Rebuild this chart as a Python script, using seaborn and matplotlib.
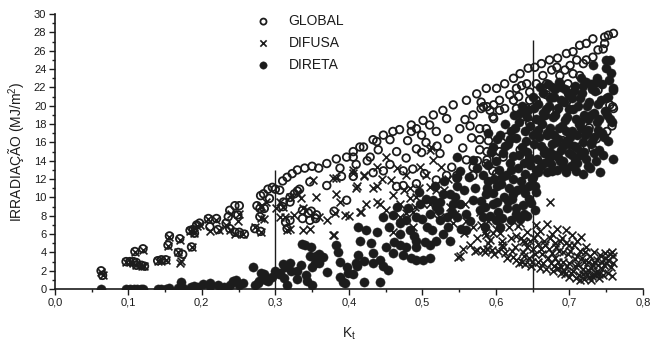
import numpy as np
import pandas as pd
import seaborn as sns
import matplotlib.pyplot as plt
from matplotlib.ticker import MultipleLocator, FuncFormatter

# valores: (Kt, irradiação MJ/m2)
global_pts = [
    (0.063, 2.0), (0.065, 1.5), (0.097, 3.0), (0.102, 3.0), (0.107, 3.0), (0.111, 2.9), (0.111, 2.6),
    (0.118, 2.6), (0.109, 4.1), (0.12, 4.4), (0.122, 2.5), (0.14, 3.1), (0.145, 3.2), (0.151, 3.2),
    (0.154, 4.8), (0.156, 5.8), (0.168, 4.0), (0.17, 5.5), (0.174, 3.8), (0.186, 4.6), (0.184, 6.4),
    (0.188, 6.5), (0.193, 7.0), (0.197, 7.2), (0.19, 6.1), (0.209, 7.7), (0.22, 7.7), (0.211, 6.8),
    (0.222, 6.5), (0.233, 7.2), (0.238, 8.6), (0.245, 9.1), (0.251, 9.1), (0.238, 6.6), (0.245, 6.2),
    (0.251, 6.2), (0.258, 6.0), (0.236, 7.9), (0.249, 8.1), (0.272, 6.6), (0.28, 6.3), (0.275, 9.1),
    (0.28, 10.2), (0.284, 10.4), (0.29, 10.9), (0.296, 11.1), (0.3, 10.9), (0.279, 8.8), (0.279, 7.9),
    (0.285, 8.8), (0.292, 9.9), (0.31, 9.0), (0.31, 11.8), (0.316, 12.2), (0.323, 12.6), (0.33, 13.0),
    (0.34, 13.2), (0.35, 13.4), (0.316, 6.6), (0.314, 7.3), (0.32, 10.0), (0.33, 10.7), (0.337, 8.6),
    (0.345, 8.3), (0.337, 7.7), (0.355, 7.7), (0.306, 10.8), (0.311, 9.5), (0.32, 9.5), (0.326, 10.4),
    (0.333, 10.9), (0.347, 11.7), (0.37, 11.3), (0.347, 7.5), (0.356, 8.1), (0.32, 7.5), (0.349, 8.5),
    (0.359, 13.2), (0.37, 13.7), (0.383, 14.2), (0.388, 13.2), (0.39, 12.3), (0.397, 9.7), (0.38, 8.5),
    (0.406, 12.3), (0.397, 14.4), (0.406, 15.0), (0.406, 14.4), (0.415, 15.5), (0.42, 15.5),
    (0.429, 14.4), (0.433, 16.3), (0.438, 16.1), (0.447, 16.8), (0.456, 16.3), (0.46, 17.2),
    (0.469, 17.4), (0.485, 17.9), (0.485, 17.2), (0.492, 17.5), (0.499, 16.8), (0.501, 18.4),
    (0.51, 17.9), (0.515, 19.0), (0.519, 17.2), (0.528, 19.5), (0.533, 18.6), (0.542, 20.1),
    (0.551, 17.5), (0.558, 18.5), (0.56, 20.6), (0.569, 19.0), (0.574, 21.3), (0.583, 19.9),
    (0.587, 21.9), (0.587, 17.5), (0.596, 18.8), (0.601, 21.9), (0.567, 16.5), (0.578, 16.3),
    (0.492, 15.3), (0.499, 14.9), (0.524, 14.8), (0.478, 14.3), (0.433, 12.7), (0.474, 12.9),
    (0.487, 13.1), (0.503, 12.6), (0.533, 12.4), (0.54, 13.3), (0.547, 12.4), (0.56, 14.1),
    (0.569, 13.3), (0.596, 12.9), (0.601, 14.3), (0.456, 13.6), (0.447, 12.9), (0.465, 11.2),
    (0.474, 11.3), (0.492, 11.5), (0.519, 11.9), (0.547, 12.1), (0.569, 12.4), (0.578, 15.2),
    (0.601, 12.6), (0.587, 13.7), (0.612, 22.4), (0.624, 23.0), (0.633, 23.5), (0.644, 24.1),
    (0.653, 24.2), (0.662, 24.6), (0.673, 25.0), (0.684, 25.2), (0.696, 25.7), (0.705, 25.9),
    (0.714, 26.6), (0.723, 26.8), (0.732, 27.3), (0.748, 27.5), (0.753, 27.7), (0.76, 27.9),
    (0.748, 26.8), (0.746, 26.2), (0.58, 20.4), (0.588, 19.9), (0.597, 20.1), (0.605, 20.6),
    (0.612, 19.7), (0.624, 20.6), (0.619, 21.2), (0.628, 21.9), (0.635, 22.2), (0.642, 22.4),
    (0.646, 21.5), (0.655, 22.4), (0.664, 23.3), (0.669, 22.4), (0.676, 23.9), (0.683, 24.2),
    (0.687, 23.3), (0.694, 23.9), (0.701, 24.4), (0.705, 23.5), (0.71, 25.0), (0.719, 24.6),
    (0.723, 25.0), (0.732, 25.3), (0.739, 26.1), (0.698, 22.4), (0.714, 23.3), (0.631, 21.0),
    (0.655, 20.6), (0.673, 21.7), (0.642, 19.7), (0.597, 18.6), (0.592, 19.5), (0.578, 17.5),
    (0.58, 19.7), (0.751, 20.8), (0.755, 20.1), (0.76, 19.7), (0.739, 21.7), (0.605, 19.5),
    (0.628, 19.7), (0.646, 20.6), (0.637, 18.8), (0.669, 21.2), (0.646, 18.1), (0.683, 19.5),
    (0.696, 20.4), (0.727, 17.6), (0.737, 16.4), (0.732, 15.3), (0.751, 17.2), (0.758, 17.8),
    (0.615, 16.6), (0.605, 15.0), (0.61, 14.4), (0.633, 15.2), (0.646, 14.3), (0.691, 16.2),
    (0.714, 15.5), (0.588, 15.0), (0.588, 14.1), (0.759, 19.9),
    (0.41, 13.6), (0.425, 14.0), (0.44, 15.2), (0.465, 15.0), (0.48, 16.2), (0.505, 16.0),
    (0.52, 15.6), (0.535, 16.4), (0.555, 15.4), (0.565, 17.8), (0.59, 16.2), (0.575, 14.0),
]

difusa_pts = [
    (0.063, 1.9), (0.065, 1.5), (0.097, 3.0), (0.102, 3.0), (0.107, 2.9), (0.111, 2.6), (0.118, 2.5),
    (0.109, 4.0), (0.12, 4.3), (0.122, 2.5), (0.14, 3.1), (0.145, 3.1), (0.151, 3.2), (0.154, 4.7),
    (0.156, 5.7), (0.17, 5.4), (0.168, 4.0), (0.172, 3.1), (0.17, 2.9), (0.186, 4.6), (0.184, 6.3),
    (0.188, 6.4), (0.19, 6.1), (0.193, 6.9), (0.197, 7.0), (0.209, 7.6), (0.211, 6.3), (0.22, 7.5),
    (0.224, 6.4), (0.233, 7.0), (0.24, 8.2), (0.249, 7.4), (0.251, 8.2), (0.245, 6.0), (0.256, 6.0),
    (0.238, 6.5), (0.272, 6.8), (0.28, 6.2), (0.281, 9.0), (0.28, 9.1), (0.284, 7.6), (0.287, 9.5),
    (0.28, 7.8), (0.301, 8.8), (0.306, 9.5), (0.306, 7.9), (0.313, 7.9), (0.32, 6.6), (0.316, 6.5),
    (0.337, 6.5), (0.335, 9.9), (0.351, 11.9), (0.356, 10.1), (0.347, 6.6), (0.36, 7.9), (0.37, 7.5),
    (0.38, 5.9), (0.383, 12.1), (0.388, 9.5), (0.4, 8.0), (0.406, 13.0), (0.41, 11.0), (0.326, 8.1),
    (0.338, 8.8), (0.31, 9.0), (0.32, 10.0), (0.33, 10.5), (0.406, 12.7), (0.42, 12.4), (0.438, 13.3),
    (0.451, 14.4), (0.411, 11.2), (0.433, 11.0), (0.438, 11.3), (0.46, 10.3), (0.478, 12.4),
    (0.483, 11.0), (0.497, 13.3), (0.51, 15.2), (0.512, 15.5), (0.515, 14.1), (0.526, 13.3),
    (0.492, 10.1), (0.51, 11.1), (0.519, 10.8), (0.469, 9.3), (0.438, 9.5), (0.424, 9.3), (0.415, 8.4),
    (0.395, 8.1), (0.451, 8.6), (0.469, 7.9), (0.483, 9.9), (0.487, 8.4), (0.501, 9.3), (0.524, 7.9),
    (0.542, 7.2), (0.551, 3.6), (0.565, 4.8), (0.574, 4.3), (0.583, 4.3), (0.592, 5.4), (0.596, 6.1),
    (0.569, 6.8), (0.578, 8.4), (0.556, 6.1), (0.587, 5.9), (0.538, 9.0), (0.558, 9.3), (0.487, 6.8),
    (0.515, 8.2), (0.379, 12.1), (0.383, 10.4), (0.42, 12.3), (0.417, 8.4), (0.442, 9.3), (0.458, 11.9),
    (0.379, 5.9), (0.381, 8.3), (0.478, 8.3), (0.496, 11.0), (0.51, 9.3), (0.549, 3.5), (0.555, 4.4),
    (0.571, 4.2), (0.585, 4.0), (0.608, 4.8), (0.637, 5.2), (0.673, 9.5),
    (0.58, 7.0), (0.585, 6.2), (0.59, 5.0), (0.595, 4.3), (0.6, 6.6), (0.588, 4.4), (0.598, 3.8),
    (0.605, 6.1), (0.608, 5.3), (0.61, 4.6), (0.612, 3.9), (0.615, 3.4), (0.618, 6.8), (0.62, 5.6),
    (0.603, 4.2), (0.624, 3.5), (0.626, 4.6), (0.628, 5.8), (0.63, 6.9), (0.633, 7.2), (0.635, 3.0),
    (0.637, 4.0), (0.64, 5.1), (0.64, 2.7), (0.632, 2.9), (0.643, 6.2), (0.645, 3.4), (0.648, 2.5),
    (0.65, 4.4), (0.652, 5.6), (0.655, 7.0), (0.657, 3.0), (0.66, 2.3), (0.66, 6.3), (0.658, 4.9),
    (0.663, 3.8), (0.665, 5.3), (0.668, 2.2), (0.67, 7.1), (0.672, 4.4), (0.675, 2.8), (0.676, 6.0),
    (0.678, 2.0), (0.68, 5.0), (0.68, 3.4), (0.683, 6.6), (0.685, 2.3), (0.686, 4.2), (0.688, 1.8),
    (0.69, 5.6), (0.692, 3.0), (0.694, 1.6), (0.695, 6.4), (0.697, 2.5), (0.7, 4.8), (0.7, 1.3),
    (0.698, 3.8), (0.703, 5.9), (0.705, 2.0), (0.707, 3.3), (0.709, 1.2), (0.71, 5.2), (0.712, 2.6),
    (0.714, 1.0), (0.715, 4.2), (0.716, 5.7), (0.718, 1.6), (0.72, 3.0), (0.72, 1.1), (0.723, 4.6),
    (0.725, 2.1), (0.727, 1.3), (0.728, 3.6), (0.73, 1.0), (0.732, 2.6), (0.733, 4.0), (0.735, 1.5),
    (0.737, 2.0), (0.738, 3.2), (0.74, 1.2), (0.742, 3.7), (0.745, 2.2), (0.746, 1.5), (0.748, 3.9),
    (0.75, 2.8), (0.752, 1.8), (0.755, 3.8), (0.756, 2.4), (0.758, 1.4), (0.76, 3.6), (0.76, 2.9),
    (0.758, 4.1),
    (0.622, 4.2), (0.627, 3.2), (0.634, 5.6), (0.638, 3.6), (0.642, 4.6), (0.646, 5.2), (0.649, 3.0),
    (0.653, 3.8), (0.656, 6.0), (0.661, 4.4), (0.664, 2.8), (0.667, 4.8), (0.671, 3.4), (0.674, 5.6),
    (0.677, 3.9), (0.679, 2.5), (0.682, 4.6), (0.684, 3.0), (0.687, 5.2), (0.689, 2.4), (0.691, 4.0),
    (0.693, 2.0), (0.696, 5.0), (0.699, 2.9), (0.701, 4.2), (0.702, 1.8), (0.706, 4.8), (0.708, 2.5),
    (0.711, 3.6), (0.713, 1.5), (0.717, 3.4), (0.719, 2.2), (0.721, 4.0), (0.724, 1.7), (0.726, 3.0),
    (0.729, 2.3), (0.731, 1.4), (0.734, 3.0), (0.736, 1.8), (0.739, 2.6), (0.741, 1.6), (0.744, 3.0),
    (0.747, 2.6), (0.749, 3.4), (0.753, 3.2),
    (0.445, 12.0), (0.465, 13.2), (0.475, 10.8), (0.49, 9.0), (0.505, 12.4), (0.53, 10.8),
    (0.535, 12.0), (0.545, 8.2), (0.56, 7.4), (0.575, 5.6), (0.59, 7.4), (0.46, 6.2),
]

direta_pts = [
    (0.063, 0.0), (0.097, 0.0), (0.102, 0.0), (0.108, 0.05), (0.112, 0.05), (0.117, 0.05), (0.12, 0.0),
    (0.14, 0.0), (0.145, 0.05), (0.151, 0.05), (0.155, 0.1), (0.168, 0.1), (0.172, 0.8), (0.175, 0.1),
    (0.185, 0.2), (0.19, 0.3), (0.195, 0.2), (0.202, 0.6), (0.211, 0.3), (0.211, 0.7), (0.222, 0.5),
    (0.23, 0.2), (0.238, 0.5), (0.243, 0.9), (0.247, 1.0), (0.25, 0.4), (0.256, 0.7), (0.27, 2.4),
    (0.272, 0.4), (0.277, 0.7), (0.278, 0.9), (0.28, 1.8), (0.284, 1.2), (0.285, 1.7), (0.288, 1.0),
    (0.29, 0.9), (0.295, 1.3), (0.3, 2.0), (0.305, 1.6), (0.306, 1.8), (0.31, 2.7), (0.312, 1.2),
    (0.313, 2.4), (0.316, 0.4), (0.32, 2.9), (0.322, 2.0), (0.329, 2.0), (0.33, 1.1), (0.335, 2.6),
    (0.336, 4.9), (0.34, 4.8), (0.342, 1.5), (0.343, 0.9), (0.347, 3.6), (0.349, 4.6), (0.35, 2.4),
    (0.35, 0.4), (0.354, 2.9), (0.355, 3.6), (0.36, 2.9), (0.36, 3.8), (0.365, 3.5), (0.37, 1.9),
    (0.383, 4.8), (0.385, 4.1), (0.388, 3.0), (0.388, 1.3), (0.395, 0.7), (0.392, 0.8), (0.397, 2.4),
    (0.399, 1.8), (0.406, 1.7), (0.41, 2.8), (0.411, 2.5), (0.413, 3.7), (0.413, 6.8), (0.415, 5.3),
    (0.42, 3.1), (0.42, 0.8), (0.424, 6.4), (0.433, 3.9), (0.433, 2.9), (0.438, 6.2), (0.442, 3.2),
    (0.442, 0.8), (0.447, 7.9), (0.447, 2.5), (0.451, 4.6), (0.453, 2.1), (0.46, 8.1), (0.46, 3.9),
    (0.462, 5.1), (0.469, 7.2), (0.469, 6.0), (0.474, 3.7), (0.478, 7.5), (0.478, 4.6), (0.483, 6.4),
    (0.485, 3.4), (0.492, 5.3), (0.492, 7.9), (0.492, 4.6), (0.492, 3.2), (0.497, 9.3), (0.501, 3.2),
    (0.503, 5.1), (0.506, 6.8), (0.51, 8.2), (0.51, 3.4), (0.51, 4.8), (0.515, 9.7), (0.519, 5.3),
    (0.519, 9.0), (0.524, 9.5), (0.524, 7.5), (0.528, 6.0), (0.528, 10.4), (0.533, 7.9), (0.538, 5.3),
    (0.538, 10.4), (0.542, 9.3), (0.547, 11.2), (0.547, 7.9), (0.547, 12.2), (0.551, 9.3),
    (0.551, 12.9), (0.56, 8.2), (0.56, 6.4), (0.569, 9.7), (0.569, 14.1), (0.578, 8.6), (0.583, 7.9),
    (0.587, 10.4), (0.596, 9.3), (0.596, 15.5), (0.601, 11.2), (0.601, 16.4), (0.547, 14.4),
    (0.43, 5.0), (0.455, 6.8), (0.465, 9.0), (0.47, 4.8), (0.48, 8.8), (0.488, 5.8), (0.495, 10.6),
    (0.5, 7.6), (0.505, 9.8), (0.513, 6.4), (0.517, 11.2), (0.522, 8.6), (0.53, 11.8), (0.535, 6.8),
    (0.54, 8.4), (0.545, 10.0), (0.553, 6.6), (0.557, 10.8), (0.563, 12.2), (0.565, 7.4),
    (0.572, 11.0), (0.575, 13.2), (0.58, 9.6), (0.59, 11.8),
    (0.582, 12.5), (0.585, 9.0), (0.588, 11.0), (0.59, 13.5), (0.592, 8.0), (0.594, 15.0),
    (0.596, 10.5), (0.598, 12.0), (0.6, 7.5), (0.6, 14.0), (0.585, 6.8), (0.59, 17.0),
    (0.602, 9.5), (0.604, 13.0), (0.605, 16.8), (0.607, 11.5), (0.608, 7.8), (0.61, 14.8),
    (0.611, 10.0), (0.613, 18.0), (0.614, 12.5), (0.615, 8.8), (0.617, 15.8), (0.618, 11.0),
    (0.619, 13.8), (0.62, 7.5), (0.62, 17.2), (0.606, 6.8), (0.622, 9.8), (0.623, 12.0),
    (0.624, 14.5), (0.625, 19.0), (0.627, 8.2), (0.628, 16.5), (0.629, 10.8), (0.63, 13.2),
    (0.632, 18.2), (0.633, 7.6), (0.634, 11.8), (0.635, 15.5), (0.636, 20.0), (0.637, 9.2),
    (0.638, 13.8), (0.639, 17.2), (0.64, 10.5), (0.64, 12.6), (0.642, 8.0), (0.643, 15.0),
    (0.644, 19.5), (0.645, 11.2), (0.646, 13.5), (0.647, 17.8), (0.648, 9.4), (0.65, 21.0),
    (0.651, 12.2), (0.652, 15.8), (0.653, 8.6), (0.654, 18.6), (0.655, 10.6), (0.656, 14.2),
    (0.657, 20.2), (0.658, 12.8), (0.659, 16.6), (0.66, 18.4), (0.66, 22.0), (0.662, 13.4),
    (0.663, 18.0), (0.664, 21.4), (0.665, 14.8), (0.666, 15.2), (0.667, 19.0), (0.668, 19.6),
    (0.669, 12.8), (0.67, 16.8), (0.671, 22.4), (0.672, 14.2), (0.673, 20.8), (0.674, 17.6),
    (0.675, 13.6), (0.676, 12.9), (0.677, 15.8), (0.678, 18.8), (0.679, 21.0), (0.68, 14.6),
    (0.68, 21.8), (0.682, 16.0), (0.683, 13.0), (0.684, 16.4), (0.685, 19.8), (0.686, 22.6),
    (0.687, 14.0), (0.688, 15.2), (0.689, 22.0), (0.69, 17.8), (0.691, 13.4), (0.692, 14.0),
    (0.693, 20.4), (0.694, 18.4), (0.695, 16.2), (0.696, 12.8), (0.697, 18.8), (0.698, 21.4),
    (0.699, 14.8), (0.7, 21.2), (0.7, 15.8), (0.702, 13.4), (0.703, 17.2), (0.704, 20.8),
    (0.705, 19.6), (0.706, 15.6), (0.707, 14.0), (0.708, 22.2), (0.709, 12.9), (0.71, 16.8),
    (0.711, 13.8), (0.712, 20.0), (0.713, 18.0), (0.714, 18.2), (0.715, 14.6), (0.716, 23.0),
    (0.717, 21.4), (0.718, 16.0), (0.719, 12.6), (0.72, 19.0), (0.72, 15.0), (0.722, 14.2),
    (0.723, 22.6), (0.724, 17.0), (0.725, 17.4), (0.726, 13.4), (0.727, 20.4), (0.728, 13.2),
    (0.729, 15.8), (0.73, 19.0), (0.731, 21.8), (0.732, 24.4), (0.733, 16.6), (0.734, 14.8),
    (0.735, 21.6), (0.736, 14.0), (0.737, 18.2), (0.738, 23.0), (0.739, 20.2), (0.74, 15.2),
    (0.742, 12.8), (0.744, 17.0), (0.745, 22.4), (0.746, 14.6), (0.748, 19.4), (0.75, 25.0),
    (0.75, 24.1), (0.752, 16.2), (0.753, 21.0), (0.755, 25.0), (0.755, 18.6), (0.757, 23.6),
    (0.758, 18.2), (0.76, 21.7), (0.76, 14.2), (0.759, 21.9),
    (0.603, 8.4), (0.609, 12.2), (0.612, 15.6), (0.616, 9.6), (0.619, 16.4), (0.621, 13.0),
    (0.624, 10.4), (0.626, 17.6), (0.628, 8.8), (0.631, 14.6), (0.633, 19.2), (0.636, 11.0),
    (0.638, 8.2), (0.641, 16.2), (0.643, 18.8), (0.645, 9.8), (0.647, 14.2), (0.649, 12.0),
    (0.65, 16.8), (0.652, 19.8), (0.653, 11.2), (0.655, 13.0), (0.658, 17.4), (0.661, 15.6),
    (0.664, 19.2), (0.666, 13.8), (0.669, 17.0), (0.672, 20.0), (0.674, 15.0), (0.677, 22.0),
    (0.679, 16.8), (0.681, 19.0), (0.684, 14.4), (0.686, 17.6), (0.689, 20.6), (0.691, 15.6),
    (0.694, 21.8), (0.696, 17.2), (0.699, 19.6), (0.701, 16.6), (0.704, 14.6), (0.706, 21.6),
    (0.709, 18.6), (0.711, 15.4), (0.714, 20.8), (0.716, 17.6), (0.719, 22.2), (0.721, 16.8),
    (0.724, 20.0), (0.726, 18.6), (0.729, 22.4), (0.731, 16.2), (0.734, 19.2), (0.736, 22.6),
    (0.739, 17.4), (0.741, 18.6), (0.743, 20.6), (0.747, 16.6), (0.751, 19.0), (0.754, 22.8),
]

# linhas verticais de referência: (Kt, altura)
ref_lines = [(0.30, 13.0), (0.65, 27.2)]

frames = []
for nome, pts in [('GLOBAL', global_pts), ('DIFUSA', difusa_pts), ('DIRETA', direta_pts)]:
    d = pd.DataFrame(pts, columns=['Kt', 'Irradiacao'])
    d['Serie'] = nome
    frames.append(d)
df = pd.concat(frames, ignore_index=True)

sns.set_theme(style='white')
plt.rcParams['font.family'] = ['Liberation Sans', 'DejaVu Sans']

fig = plt.figure(figsize=(6.52, 3.53), dpi=100)
ax = fig.add_axes([0.084, 0.181, 0.902, 0.779])

cor = '#1c1c1c'
estilos = {
    'GLOBAL': dict(marker='o', s=30, facecolors='none', edgecolors=cor, linewidths=1.3),
    'DIFUSA': dict(marker='x', s=32, color=cor, linewidths=1.2),
    'DIRETA': dict(marker='o', s=44, color=cor, edgecolor=cor, linewidth=0.3),
}
for nome in ['GLOBAL', 'DIFUSA', 'DIRETA']:
    sns.scatterplot(data=df[df['Serie'] == nome], x='Kt', y='Irradiacao', ax=ax,
                    label=nome, legend=False, **estilos[nome])

for kt, h in ref_lines:
    ax.vlines(kt, 0, h, color=cor, linewidth=1.0)

ax.set_xlim(0, 0.8)
ax.set_ylim(0, 30)
ax.xaxis.set_major_locator(MultipleLocator(0.1))
ax.xaxis.set_minor_locator(MultipleLocator(0.05))
ax.yaxis.set_major_locator(MultipleLocator(2))
ax.yaxis.set_minor_locator(MultipleLocator(1))
ax.xaxis.set_major_formatter(FuncFormatter(lambda v, p: f'{v:.1f}'.replace('.', ',')))
ax.tick_params(axis='both', which='major', direction='out', length=4, width=1, colors=cor,
               labelsize=8, pad=2, bottom=True, left=True)
ax.tick_params(axis='both', which='minor', direction='out', length=2, width=1, colors=cor,
               bottom=True, left=True)
for lado in ['top', 'right']:
    ax.spines[lado].set_visible(False)
for lado in ['left', 'bottom']:
    ax.spines[lado].set_color(cor)
    ax.spines[lado].set_linewidth(1.2)

ax.set_xlabel(r'K$_\mathregular{t}$', fontsize=10, color=cor, labelpad=13)
ax.set_ylabel(r'IRRADIAÇÃO (MJ/m$^\mathregular{2}$)', fontsize=10, color=cor, labelpad=4)

leg = ax.legend(loc='upper left', bbox_to_anchor=(0.31, 1.045), frameon=False, fontsize=10,
                handletextpad=0.8, labelspacing=0.55, markerscale=0.8)
for t in leg.get_texts():
    t.set_color(cor)

fig.savefig('out.png', dpi=100)
